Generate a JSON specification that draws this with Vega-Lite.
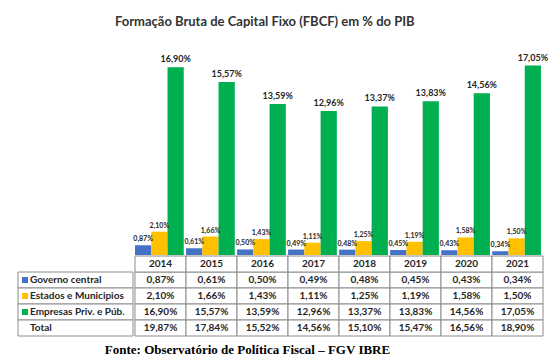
{
  "$schema": "https://vega.github.io/schema/vega-lite/v6.json",
  "padding": {"left": 17, "right": 10, "top": 15, "bottom": 6},
  "config": {
    "view": {"stroke": null},
    "font": "Lato",
    "concat": {"spacing": 0},
    "locale": {"number": {"decimal": ",", "thousands": ".", "grouping": [3], "currency": ["R$", ""]}}
  },
  "title": {"text": "Formação Bruta de Capital Fixo (FBCF) em % do PIB", "fontSize": 13, "fontWeight": "bold", "color": "#333333", "anchor": "middle", "dx": -18, "offset": 25},
  "datasets": {
    "fbcf": [
      {"ano": "2014", "serie": "Governo central", "valor": 0.0087},
      {"ano": "2015", "serie": "Governo central", "valor": 0.0061},
      {"ano": "2016", "serie": "Governo central", "valor": 0.0050},
      {"ano": "2017", "serie": "Governo central", "valor": 0.0049},
      {"ano": "2018", "serie": "Governo central", "valor": 0.0048},
      {"ano": "2019", "serie": "Governo central", "valor": 0.0045},
      {"ano": "2020", "serie": "Governo central", "valor": 0.0043},
      {"ano": "2021", "serie": "Governo central", "valor": 0.0034},
      {"ano": "2014", "serie": "Estados e Municipios", "valor": 0.0210},
      {"ano": "2015", "serie": "Estados e Municipios", "valor": 0.0166},
      {"ano": "2016", "serie": "Estados e Municipios", "valor": 0.0143},
      {"ano": "2017", "serie": "Estados e Municipios", "valor": 0.0111},
      {"ano": "2018", "serie": "Estados e Municipios", "valor": 0.0125},
      {"ano": "2019", "serie": "Estados e Municipios", "valor": 0.0119},
      {"ano": "2020", "serie": "Estados e Municipios", "valor": 0.0158},
      {"ano": "2021", "serie": "Estados e Municipios", "valor": 0.0150},
      {"ano": "2014", "serie": "Empresas Priv. e Púb.", "valor": 0.1690},
      {"ano": "2015", "serie": "Empresas Priv. e Púb.", "valor": 0.1557},
      {"ano": "2016", "serie": "Empresas Priv. e Púb.", "valor": 0.1359},
      {"ano": "2017", "serie": "Empresas Priv. e Púb.", "valor": 0.1296},
      {"ano": "2018", "serie": "Empresas Priv. e Púb.", "valor": 0.1337},
      {"ano": "2019", "serie": "Empresas Priv. e Púb.", "valor": 0.1383},
      {"ano": "2020", "serie": "Empresas Priv. e Púb.", "valor": 0.1456},
      {"ano": "2021", "serie": "Empresas Priv. e Púb.", "valor": 0.1705},
      {"ano": "2014", "serie": "Total", "valor": 0.1987},
      {"ano": "2015", "serie": "Total", "valor": 0.1784},
      {"ano": "2016", "serie": "Total", "valor": 0.1552},
      {"ano": "2017", "serie": "Total", "valor": 0.1456},
      {"ano": "2018", "serie": "Total", "valor": 0.1510},
      {"ano": "2019", "serie": "Total", "valor": 0.1547},
      {"ano": "2020", "serie": "Total", "valor": 0.1656},
      {"ano": "2021", "serie": "Total", "valor": 0.1890}
    ],
    "rotulos": [
      {"serie": "Governo central"},
      {"serie": "Estados e Municipios"},
      {"serie": "Empresas Priv. e Púb."},
      {"serie": "Total"}
    ]
  },
  "spacing": 0,
  "resolve": {"scale": {"x": "independent", "y": "independent"}},
  "vconcat": [
    {
      "spacing": 0,
      "resolve": {"scale": {"x": "independent", "y": "independent"}},
      "hconcat": [
        {
          "width": 115,
          "height": 200,
          "data": {"values": [{"t": ""}]},
          "mark": {"type": "text"},
          "encoding": {"text": {"field": "t"}}
        },
        {
          "width": 408,
          "height": 200,
          "data": {"name": "fbcf"},
          "transform": [{"filter": "datum.serie !== 'Total'"}],
          "encoding": {
            "x": {"field": "ano", "type": "nominal", "axis": null, "scale": {"paddingInner": 0.045, "paddingOuter": 0.02}},
            "xOffset": {"field": "serie", "type": "nominal", "scale": {"domain": ["Governo central", "Estados e Municipios", "Empresas Priv. e Púb."], "paddingInner": 0, "paddingOuter": 0}},
            "y": {"field": "valor", "type": "quantitative", "axis": null, "scale": {"domain": [0, 0.18]}}
          },
          "layer": [
            {
              "mark": {"type": "bar"},
              "encoding": {
                "color": {"field": "serie", "type": "nominal", "legend": null, "scale": {"domain": ["Governo central", "Estados e Municipios", "Empresas Priv. e Púb."], "range": ["#4472C4", "#FFC000", "#00B050"]}}
              }
            },
            {
              "transform": [{"filter": "datum.serie !== 'Empresas Priv. e Púb.'"}],
              "mark": {"type": "text", "fontSize": 7, "fontWeight": "bold", "baseline": "bottom", "dy": -3, "color": "#262626"},
              "encoding": {"text": {"field": "valor", "type": "quantitative", "format": ".2%"}}
            },
            {
              "transform": [{"filter": "datum.serie === 'Empresas Priv. e Púb.'"}],
              "mark": {"type": "text", "fontSize": 9, "fontWeight": "bold", "baseline": "bottom", "dy": -3, "color": "#262626"},
              "encoding": {"text": {"field": "valor", "type": "quantitative", "format": ".2%"}}
            }
          ]
        }
      ]
    },
    {
      "spacing": 0,
      "resolve": {"scale": {"x": "independent", "y": "independent"}},
      "title": {"text": "Fonte: Observatório de Política Fiscal – FGV IBRE", "orient": "bottom", "anchor": "middle", "font": "Liberation Serif", "fontSize": 13, "fontWeight": "bold", "color": "#000000", "dx": -33, "offset": 7},
      "hconcat": [
        {
          "width": 115,
          "height": 80,
          "data": {"name": "rotulos"},
          "encoding": {
            "y": {"field": "serie", "type": "nominal", "axis": null, "scale": {"domain": ["hdr", "Governo central", "Estados e Municipios", "Empresas Priv. e Púb.", "Total"], "paddingInner": 0, "paddingOuter": 0}}
          },
          "layer": [
            {"mark": {"type": "rect", "fill": "white", "stroke": "#8c8c8c", "strokeWidth": 1}},
            {
              "transform": [{"filter": "datum.serie !== 'Total'"}],
              "mark": {"type": "square", "size": 36, "filled": true, "opacity": 1},
              "encoding": {
                "x": {"value": 7},
                "color": {"field": "serie", "type": "nominal", "legend": null, "scale": {"domain": ["Governo central", "Estados e Municipios", "Empresas Priv. e Púb."], "range": ["#4472C4", "#FFC000", "#00B050"]}}
              }
            },
            {
              "mark": {"type": "text", "align": "left", "fontSize": 10, "fontWeight": "bold", "color": "#262626"},
              "encoding": {"x": {"value": 12}, "text": {"field": "serie"}}
            }
          ]
        },
        {
          "width": 408,
          "height": 80,
          "data": {"name": "fbcf"},
          "encoding": {
            "x": {"field": "ano", "type": "nominal", "axis": null, "scale": {"paddingInner": 0, "paddingOuter": 0}},
            "y": {"field": "serie", "type": "nominal", "axis": null, "scale": {"domain": ["hdr", "Governo central", "Estados e Municipios", "Empresas Priv. e Púb.", "Total"], "paddingInner": 0, "paddingOuter": 0}}
          },
          "layer": [
            {"mark": {"type": "rect", "fill": "white", "stroke": "#8c8c8c", "strokeWidth": 1}},
            {
              "mark": {"type": "text", "fontSize": 10, "fontWeight": "bold", "color": "#262626"},
              "encoding": {"text": {"field": "valor", "type": "quantitative", "format": ".2%"}}
            },
            {
              "transform": [{"filter": "datum.serie === 'Total'"}],
              "mark": {"type": "rect", "fill": "white", "stroke": "#8c8c8c", "strokeWidth": 1},
              "encoding": {"y": {"datum": "hdr"}}
            },
            {
              "transform": [{"filter": "datum.serie === 'Total'"}],
              "mark": {"type": "text", "fontSize": 10, "fontWeight": "bold", "color": "#262626"},
              "encoding": {"y": {"datum": "hdr"}, "text": {"field": "ano"}}
            }
          ]
        }
      ]
    }
  ]
}
